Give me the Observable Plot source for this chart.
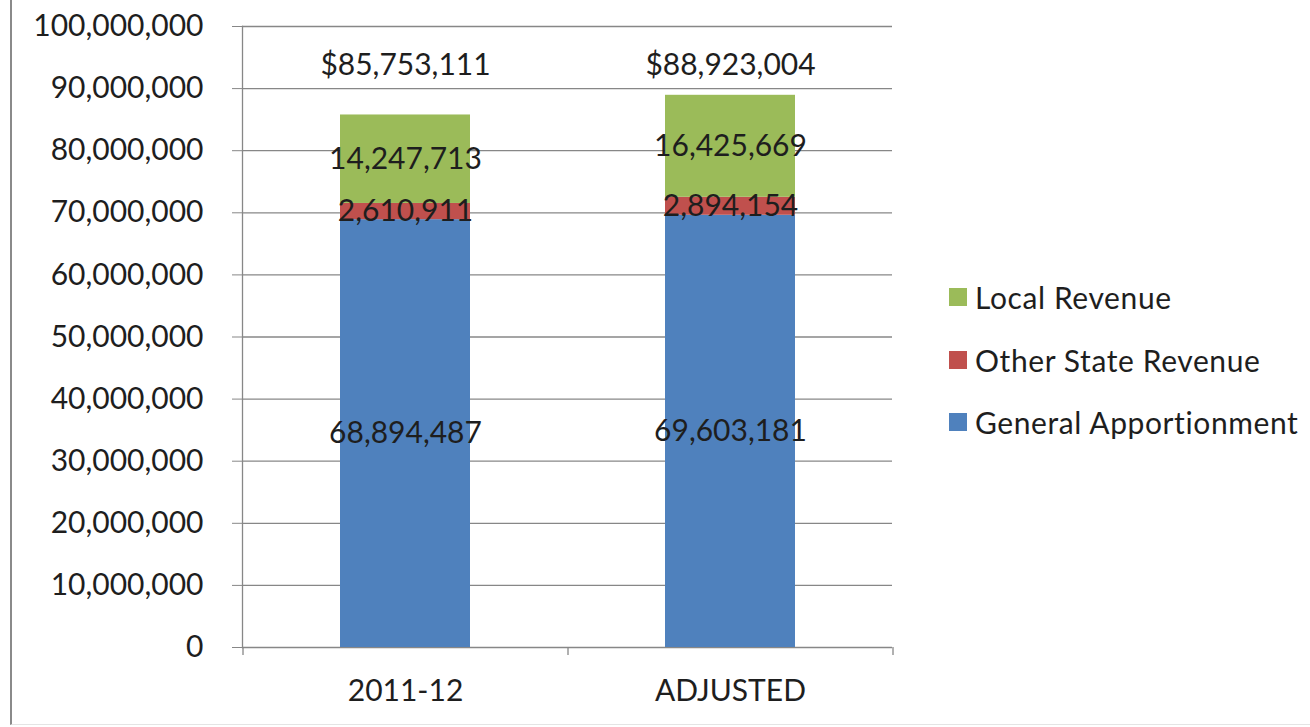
<!DOCTYPE html>
<html>
<head>
<meta charset="utf-8">
<script src="https://cdn.jsdelivr.net/npm/d3@7"></script>
<script src="https://cdn.jsdelivr.net/npm/@observablehq/plot@0.6"></script>
<style>
  html, body { margin: 0; padding: 0; background: #fff; }
  #wrap { position: relative; width: 1310px; height: 727px; overflow: hidden; font-family: Lato, "Open Sans", sans-serif; }
  #border { position: absolute; left: 10px; top: -2px; width: 1400px; height: 726px; border-left: 2px solid #8a8a8a; border-bottom: 1px solid #e4e4e4; pointer-events: none; }
  #legend { position: absolute; left: 949px; top: 266px; }
  .item { display: flex; align-items: center; height: 62.5px; font-size: 30px; color: #1e1e1e; letter-spacing: 0.6px; }
  .sw { width: 18px; height: 18px; margin-right: 8px; }
</style>
</head>
<body>
<div id="wrap"><div id="chart"></div><div id="legend"></div><div id="border"></div></div>
<script>
const categories = ["2011-12", "ADJUSTED"];
const series = ["General Apportionment", "Other State Revenue", "Local Revenue"];
const generalApportionment = [68894487, 69603181];
const otherStateRevenue = [2610911, 2894154];
const localRevenue = [14247713, 16425669];
const totals = [85753111, 88923004];
const colors = ["#4F81BD", "#C0504D", "#9BBB59"];
const yTicks = [0, 10000000, 20000000, 30000000, 40000000, 50000000, 60000000, 70000000, 80000000, 90000000, 100000000];

const valuesBySeries = [generalApportionment, otherStateRevenue, localRevenue];
const rows = [];
categories.forEach((c, i) => {
  series.forEach((s, j) => rows.push({category: c, series: s, value: valuesBySeries[j][i]}));
});
const totalRows = categories.map((c, i) => ({category: c, total: totals[i]}));

const fmt = d3.format(",");
const W = 1310, H = 727, mL = 242, mR = 418, mT = 26, mB = 80;
const step = (W - mL - mR) / categories.length;
const gridColor = "#878787";
const textColor = "#1e1e1e";
const FS = 30;

const chart = Plot.plot({
  width: W, height: H,
  marginLeft: mL, marginRight: mR, marginTop: mT, marginBottom: mB,
  style: {fontFamily: "Lato, 'Open Sans', sans-serif", fontSize: FS + "px", color: textColor, background: "transparent"},
  x: {domain: categories, paddingInner: 0.6, paddingOuter: 0.3, label: null},
  y: {domain: [0, 100000000], label: null},
  color: {domain: series, range: colors},
  marks: [
    Plot.ruleY(yTicks, {y: d => d, stroke: gridColor, strokeWidth: 1.3}),
    Plot.barY(rows, {x: "category", y: "value", fill: "series", order: series}),
    Plot.frame({anchor: "left", stroke: gridColor, strokeWidth: 1.3}),
    Plot.ruleX(categories, {x: d => d, dx: -step / 2, y1: 0, y2: 0, insetBottom: -8, stroke: gridColor, strokeWidth: 1.3}),
    Plot.ruleX(categories.slice(-1), {x: d => d, dx: step / 2, y1: 0, y2: 0, insetBottom: -8, stroke: gridColor, strokeWidth: 1.3}),
    Plot.axisY({ticks: yTicks, tickFormat: fmt, tickSize: 10, tickPadding: 29, stroke: gridColor, fill: textColor, fontSize: FS, label: null}),
    Plot.axisX({tickSize: 0, tickPadding: 32, fill: textColor, fontSize: FS, label: null}),
    Plot.text(rows, Plot.stackY({x: "category", y: "value", z: "series", order: series, text: d => fmt(d.value), fill: textColor, fontSize: FS})),
    Plot.text(totalRows, {x: "category", frameAnchor: "top", dy: 27, text: d => "$" + fmt(d.total), fill: textColor, fontSize: FS})
  ]
});
document.getElementById("chart").appendChild(chart);

const legend = document.getElementById("legend");
series.slice().reverse().forEach(s => {
  const item = document.createElement("div");
  item.className = "item";
  const sw = document.createElement("div");
  sw.className = "sw";
  sw.style.background = colors[series.indexOf(s)];
  const label = document.createElement("span");
  label.textContent = s;
  item.appendChild(sw);
  item.appendChild(label);
  legend.appendChild(item);
});
</script>
</body>
</html>
